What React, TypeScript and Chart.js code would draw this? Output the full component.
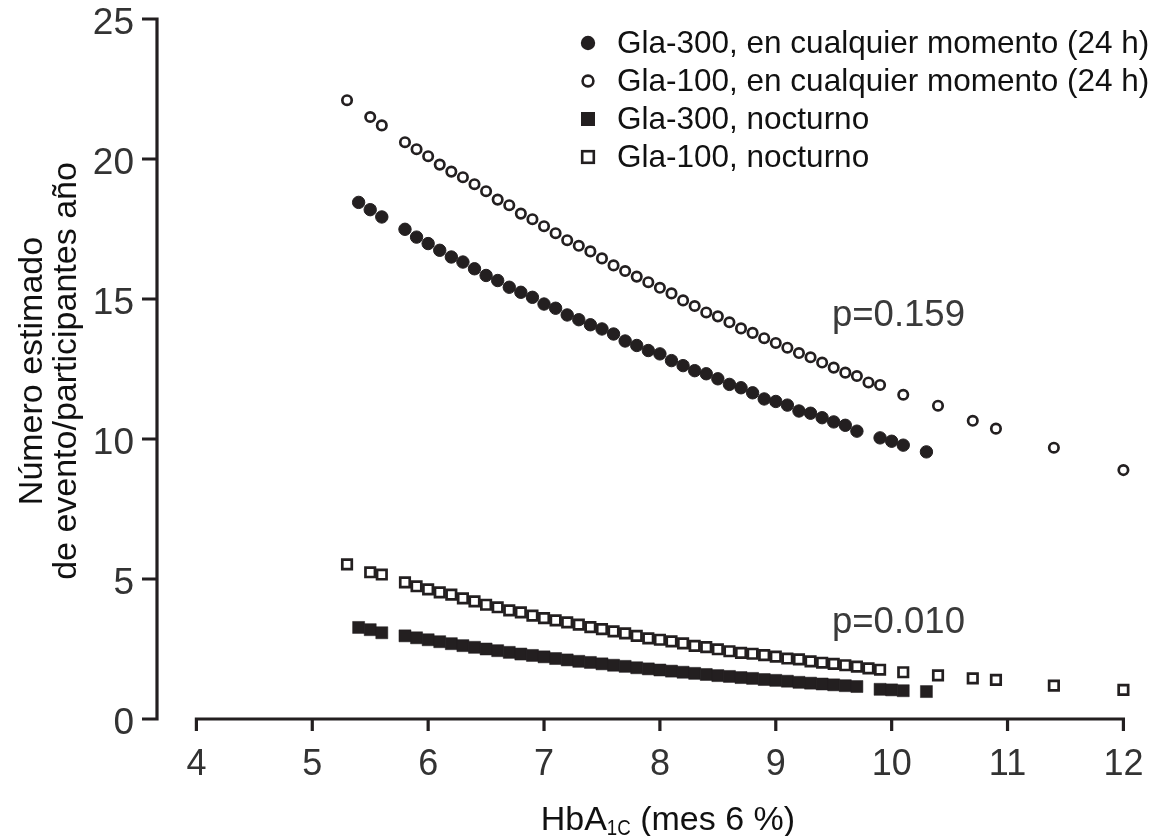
import React, { useEffect, useRef } from "react";
import { Chart, registerables } from "chart.js";

Chart.register(...registerables);

// ---------- data ----------
const xTickValues = [4, 5, 6, 7, 8, 9, 10, 11, 12];
const yTickValues = [0, 5, 10, 15, 20, 25];

const legendLabels = [
  "Gla-300, en cualquier momento (24 h)",
  "Gla-100, en cualquier momento (24 h)",
  "Gla-300, nocturno",
  "Gla-100, nocturno",
];

const pValueLabels = ["p=0.159", "p=0.010"];

// Gla-300, any time (24 h) — filled circles
const gla300AnyX = [5.4, 5.5, 5.6, 5.8, 5.9, 6.0, 6.1, 6.2, 6.3, 6.4, 6.5, 6.6, 6.7, 6.8, 6.9, 7.0, 7.1, 7.2, 7.3, 7.4, 7.5, 7.6, 7.7, 7.8, 7.9, 8.0, 8.1, 8.2, 8.3, 8.4, 8.5, 8.6, 8.7, 8.8, 8.9, 9.0, 9.1, 9.2, 9.3, 9.4, 9.5, 9.6, 9.7, 9.9, 10.0, 10.1, 10.3];
const gla300AnyY = [18.45, 18.19, 17.93, 17.49, 17.21, 16.98, 16.74, 16.5, 16.32, 16.08, 15.84, 15.66, 15.42, 15.24, 15.06, 14.82, 14.67, 14.43, 14.26, 14.08, 13.93, 13.75, 13.5, 13.34, 13.16, 13.04, 12.8, 12.62, 12.44, 12.33, 12.15, 11.95, 11.83, 11.65, 11.43, 11.34, 11.21, 11.0, 10.92, 10.76, 10.61, 10.49, 10.28, 10.04, 9.92, 9.78, 9.54];

// Gla-100, any time (24 h) — open circles
const gla100AnyX = [5.3, 5.5, 5.6, 5.8, 5.9, 6.0, 6.1, 6.2, 6.3, 6.4, 6.5, 6.6, 6.7, 6.8, 6.9, 7.0, 7.1, 7.2, 7.3, 7.4, 7.5, 7.6, 7.7, 7.8, 7.9, 8.0, 8.1, 8.2, 8.3, 8.4, 8.5, 8.6, 8.7, 8.8, 8.9, 9.0, 9.1, 9.2, 9.3, 9.4, 9.5, 9.6, 9.7, 9.8, 9.9, 10.1, 10.4, 10.7, 10.9, 11.4, 12.0];
const gla100AnyY = [22.1, 21.5, 21.2, 20.6, 20.35, 20.1, 19.8, 19.55, 19.35, 19.1, 18.85, 18.55, 18.35, 18.05, 17.85, 17.6, 17.35, 17.1, 16.9, 16.7, 16.45, 16.2, 16.0, 15.8, 15.6, 15.4, 15.2, 14.95, 14.75, 14.52, 14.38, 14.17, 13.95, 13.79, 13.6, 13.43, 13.26, 13.07, 12.92, 12.73, 12.55, 12.37, 12.25, 12.02, 11.93, 11.58, 11.19, 10.65, 10.37, 9.69, 8.89];

// Gla-300, nocturnal — filled squares
const gla300NightX = [5.4, 5.5, 5.6, 5.8, 5.9, 6.0, 6.1, 6.2, 6.3, 6.4, 6.5, 6.6, 6.7, 6.8, 6.9, 7.0, 7.1, 7.2, 7.3, 7.4, 7.5, 7.6, 7.7, 7.8, 7.9, 8.0, 8.1, 8.2, 8.3, 8.4, 8.5, 8.6, 8.7, 8.8, 8.9, 9.0, 9.1, 9.2, 9.3, 9.4, 9.5, 9.6, 9.7, 9.9, 10.0, 10.1, 10.3];
const gla300NightY = [3.27, 3.19, 3.08, 2.97, 2.9, 2.83, 2.76, 2.69, 2.62, 2.56, 2.5, 2.44, 2.38, 2.32, 2.27, 2.22, 2.16, 2.11, 2.06, 2.02, 1.97, 1.92, 1.88, 1.83, 1.79, 1.75, 1.71, 1.67, 1.63, 1.59, 1.55, 1.52, 1.48, 1.45, 1.41, 1.38, 1.35, 1.31, 1.28, 1.25, 1.22, 1.19, 1.16, 1.06, 1.04, 1.01, 0.98];

// Gla-100, nocturnal — open squares
const gla100NightX = [5.3, 5.5, 5.6, 5.8, 5.9, 6.0, 6.1, 6.2, 6.3, 6.4, 6.5, 6.6, 6.7, 6.8, 6.9, 7.0, 7.1, 7.2, 7.3, 7.4, 7.5, 7.6, 7.7, 7.8, 7.9, 8.0, 8.1, 8.2, 8.3, 8.4, 8.5, 8.6, 8.7, 8.8, 8.9, 9.0, 9.1, 9.2, 9.3, 9.4, 9.5, 9.6, 9.7, 9.8, 9.9, 10.1, 10.4, 10.7, 10.9, 11.4, 12.0];
const gla100NightY = [5.52, 5.24, 5.16, 4.88, 4.74, 4.63, 4.52, 4.44, 4.31, 4.2, 4.08, 3.99, 3.88, 3.81, 3.69, 3.6, 3.52, 3.45, 3.37, 3.28, 3.21, 3.13, 3.06, 2.97, 2.88, 2.83, 2.77, 2.7, 2.61, 2.57, 2.49, 2.42, 2.36, 2.33, 2.28, 2.23, 2.16, 2.13, 2.06, 2.01, 1.97, 1.92, 1.87, 1.81, 1.76, 1.67, 1.56, 1.45, 1.4, 1.19, 1.04];

// ---------- styling ----------
const INK = "#231f20";
const FONT = "'Liberation Sans', Arial, Helvetica, sans-serif";

const toPoints = (xs: number[], ys: number[]) => xs.map((x, i) => ({ x, y: ys[i] }));

type MarkerKind = "filledCircle" | "openCircle" | "filledSquare" | "openSquare";
const markerKinds: MarkerKind[] = ["filledCircle", "openCircle", "filledSquare", "openSquare"];

function drawMarker(ctx: CanvasRenderingContext2D, kind: MarkerKind, x: number, y: number) {
  ctx.save();
  ctx.fillStyle = INK;
  ctx.strokeStyle = INK;
  if (kind === "filledCircle") {
    ctx.beginPath();
    ctx.arc(x, y, 7.2, 0, Math.PI * 2);
    ctx.fill();
  } else if (kind === "openCircle") {
    ctx.lineWidth = 2.6;
    ctx.beginPath();
    ctx.arc(x, y, 5.4, 0, Math.PI * 2);
    ctx.stroke();
  } else if (kind === "filledSquare") {
    ctx.fillRect(x - 7, y - 7, 14, 14);
  } else {
    ctx.lineWidth = 2.6;
    ctx.strokeRect(x - 5.8, y - 5.8, 11.6, 11.6);
  }
  ctx.restore();
}

const decorPlugin = {
  id: "decor",
  afterDraw(chart: any) {
    const ctx: CanvasRenderingContext2D = chart.ctx;
    const xs = chart.scales.x;
    const ys = chart.scales.y;
    const area = chart.chartArea;
    ctx.save();

    // --- axis lines ---
    ctx.strokeStyle = INK;
    ctx.lineWidth = 3.2;
    ctx.lineCap = "butt";
    const y0 = ys.getPixelForValue(0);
    const xStart = xs.getPixelForValue(xTickValues[0]);
    const xEnd = xs.getPixelForValue(xTickValues[xTickValues.length - 1]);
    ctx.beginPath();
    ctx.moveTo(xStart - 1.6, y0);
    ctx.lineTo(xEnd + 1.6, y0);
    xTickValues.forEach((v) => {
      const px = xs.getPixelForValue(v);
      ctx.moveTo(px, y0);
      ctx.lineTo(px, y0 + 12);
    });
    ctx.stroke();

    const yAxisX = area.left;
    const yTop = ys.getPixelForValue(yTickValues[yTickValues.length - 1]);
    ctx.beginPath();
    ctx.moveTo(yAxisX, y0 + 1.6);
    ctx.lineTo(yAxisX, yTop - 1.6);
    yTickValues.forEach((v) => {
      const py = ys.getPixelForValue(v);
      ctx.moveTo(yAxisX + 1.6, py);
      ctx.lineTo(yAxisX - 15, py);
    });
    ctx.stroke();

    // --- tick labels ---
    ctx.fillStyle = "#333333";
    ctx.font = `36px ${FONT}`;
    ctx.textAlign = "center";
    ctx.textBaseline = "alphabetic";
    xTickValues.forEach((v) => {
      ctx.fillText(String(v), xs.getPixelForValue(v), y0 + 56);
    });
    ctx.font = `37px ${FONT}`;
    ctx.textAlign = "right";
    yTickValues.forEach((v) => {
      ctx.fillText(String(v), yAxisX - 23, ys.getPixelForValue(v) + 15);
    });

    // --- y axis title (two lines, rotated) ---
    ctx.fillStyle = "#111111";
    ctx.font = `34px ${FONT}`;
    ctx.textAlign = "center";
    const midY = (area.top + area.bottom) / 2 + 2;
    ctx.save();
    ctx.translate(42, midY);
    ctx.rotate(-Math.PI / 2);
    ctx.fillText("Número estimado", 0, 0);
    ctx.restore();
    ctx.save();
    ctx.translate(76, midY);
    ctx.rotate(-Math.PI / 2);
    ctx.fillText("de evento/participantes año", 0, 0);
    ctx.restore();

    // --- x axis title with subscript ---
    const partA = "HbA";
    const partSub = "1C";
    const partB = " (mes 6 %)";
    ctx.textAlign = "left";
    ctx.font = `34px ${FONT}`;
    const wA = ctx.measureText(partA).width;
    const wB = ctx.measureText(partB).width;
    ctx.font = `22px ${FONT}`;
    const wSub = ctx.measureText(partSub).width * 0.85;
    const total = wA + wSub + wB;
    const cx = (xStart + xEnd) / 2 + 8;
    let tx = cx - total / 2;
    const base = 830;
    ctx.font = `34px ${FONT}`;
    ctx.fillText(partA, tx, base);
    tx += wA;
    ctx.save();
    ctx.font = `22px ${FONT}`;
    ctx.translate(tx, base + 5);
    ctx.scale(0.85, 1);
    ctx.fillText(partSub, 0, 0);
    ctx.restore();
    tx += wSub;
    ctx.font = `34px ${FONT}`;
    ctx.fillText(partB, tx, base);

    // --- p-value annotations ---
    ctx.fillStyle = "#3a3a3a";
    ctx.font = `36.5px ${FONT}`;
    ctx.textAlign = "left";
    ctx.fillText(pValueLabels[0], 832, 326);
    ctx.fillText(pValueLabels[1], 832, 633);

    // --- legend ---
    ctx.fillStyle = "#111111";
    ctx.font = `31.5px ${FONT}`;
    ctx.textBaseline = "middle";
    legendLabels.forEach((label, i) => {
      const ly = 43 + i * 38;
      drawMarker(ctx, markerKinds[i], 588, ly);
      ctx.fillText(label, 617, ly + 1);
    });

    ctx.restore();
  },
};

export default function App() {
  const canvasRef = useRef<HTMLCanvasElement | null>(null);

  useEffect(() => {
    const canvas = canvasRef.current;
    if (!canvas) return;
    const chart = new Chart(canvas, {
      type: "scatter",
      data: {
        datasets: [
          {
            label: legendLabels[0],
            data: toPoints(gla300AnyX, gla300AnyY),
            pointStyle: "circle",
            pointRadius: 6.2,
            pointBackgroundColor: INK,
            pointBorderColor: INK,
            pointBorderWidth: 1,
            clip: false,
          },
          {
            label: legendLabels[1],
            data: toPoints(gla100AnyX, gla100AnyY),
            pointStyle: "circle",
            pointRadius: 4.7,
            pointBackgroundColor: "#ffffff",
            pointBorderColor: INK,
            pointBorderWidth: 2.7,
            clip: false,
          },
          {
            label: legendLabels[2],
            data: toPoints(gla300NightX, gla300NightY),
            pointStyle: "rect",
            pointRadius: 8.5,
            pointBackgroundColor: INK,
            pointBorderColor: INK,
            pointBorderWidth: 0.5,
            clip: false,
          },
          {
            label: legendLabels[3],
            data: toPoints(gla100NightX, gla100NightY),
            pointStyle: "rect",
            pointRadius: 6.7,
            pointBackgroundColor: "#ffffff",
            pointBorderColor: INK,
            pointBorderWidth: 2.7,
            clip: false,
          },
        ] as any,
      },
      options: {
        responsive: false,
        animation: false,
        events: [],
        layout: { padding: { left: 157, right: 15, top: 19, bottom: 117 } },
        scales: {
          x: { type: "linear", min: 3.66, max: 12.1, display: false },
          y: { type: "linear", min: 0, max: 25, display: false },
        },
        plugins: {
          legend: { display: false },
          tooltip: { enabled: false },
        },
      },
      plugins: [decorPlugin],
    });
    return () => chart.destroy();
  }, []);

  return (
    <div style={{ position: "absolute", left: 0, top: 0, width: 1150, height: 836, background: "#ffffff" }}>
      <canvas ref={canvasRef} width={1150} height={836} style={{ display: "block" }} />
    </div>
  );
}
